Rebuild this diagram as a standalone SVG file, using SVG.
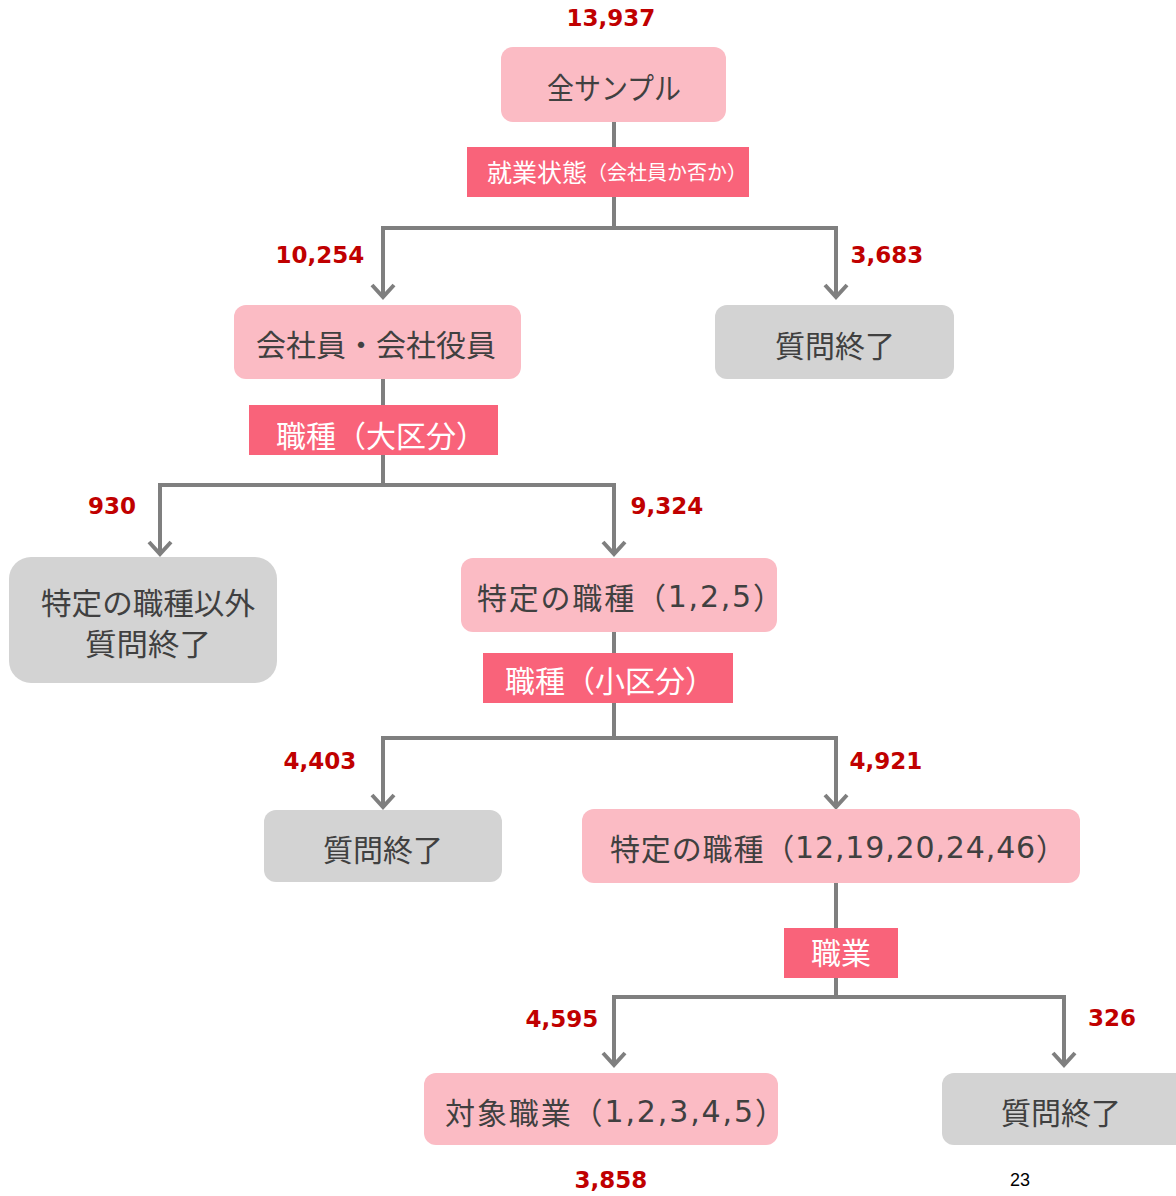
<svg xmlns="http://www.w3.org/2000/svg" width="1176" height="1196" viewBox="0 0 1176 1196">
<defs>
<marker id="arr" markerUnits="userSpaceOnUse" markerWidth="40" markerHeight="40" viewBox="-20 -20 40 40" refX="0" refY="0" orient="auto">
<path d="M-12,-11 L0,0 L-12,11" fill="none" stroke="#7F7F7F" stroke-width="4" stroke-linejoin="miter"/>
</marker>
</defs>
<style>
.pink{fill:#FBBBC4;}
.gray{fill:#D3D3D3;}
.lab{fill:#F9637A;}
.nt{font-family:"Noto Sans CJK JP","Noto Sans",sans-serif;font-size:30px;fill:#404040;text-anchor:middle;dominant-baseline:central;}
.lt{font-family:"Noto Sans CJK JP","Noto Sans",sans-serif;font-size:30px;fill:#FFFFFF;text-anchor:middle;dominant-baseline:central;}
.d{font-family:"DejaVu Sans","Noto Sans CJK JP",sans-serif;}
.num{font-family:"DejaVu Sans",Verdana,sans-serif;font-weight:bold;font-size:23px;fill:#C00000;text-anchor:middle;}
.ln{fill:none;stroke:#7F7F7F;stroke-width:4;stroke-linejoin:miter;}
.ar{marker-end:url(#arr);}
</style>
<g id="connectors">
<path class="ln" d="M614,122 V228"/>
<path class="ln ar" d="M614,228 H383 V297"/>
<path class="ln ar" d="M614,228 H836 V297"/>
<path class="ln" d="M383,379 V485"/>
<path class="ln ar" d="M383,485 H160 V554"/>
<path class="ln ar" d="M383,485 H614 V554"/>
<path class="ln" d="M614,632 V738"/>
<path class="ln ar" d="M614,738 H383 V807"/>
<path class="ln ar" d="M614,738 H836 V807"/>
<path class="ln" d="M836,883 V997"/>
<path class="ln ar" d="M836,997 H614 V1065"/>
<path class="ln ar" d="M836,997 H1064 V1065"/>
</g>
<g id="label-shugyo">
<rect class="lab" x="467" y="147" width="282" height="50"/>
<text class="lt" x="487" y="171" style="text-anchor:start"><tspan font-size="25">就業状態</tspan><tspan font-size="20">（会社員か否か）</tspan></text>
</g>
<g id="label-daikubun">
<rect class="lab" x="249" y="405" width="249" height="50"/>
<text class="lt" x="381" y="434">職種（大区分）</text>
</g>
<g id="label-shokubun">
<rect class="lab" x="483" y="653" width="250" height="50"/>
<text class="lt" x="610" y="679">職種（小区分）</text>
</g>
<g id="label-shokugyo">
<rect class="lab" x="784" y="928" width="114" height="50"/>
<text class="lt" x="841" y="951">職業</text>
</g>
<g id="node-all">
<rect class="pink" x="501" y="47" width="225" height="75" rx="12"/>
<text class="nt" x="614" y="86" textLength="134" lengthAdjust="spacingAndGlyphs">全サンプル</text>
</g>
<g id="node-kaishain">
<rect class="pink" x="234" y="305" width="287" height="74" rx="12"/>
<text class="nt" x="376" y="343">会社員・会社役員</text>
</g>
<g id="node-end1">
<rect class="gray" x="715" y="305" width="239" height="74" rx="12"/>
<text class="nt" x="835" y="344" font-size="31">質問終了</text>
</g>
<g id="node-other">
<rect class="gray" x="9" y="557" width="268" height="126" rx="22"/>
<text class="nt" x="148" y="601" font-size="28" textLength="214" lengthAdjust="spacingAndGlyphs">特定の職種以外</text>
<text class="nt" x="148" y="642" font-size="28" textLength="126" lengthAdjust="spacingAndGlyphs">質問終了</text>
</g>
<g id="node-125">
<rect class="pink" x="461" y="558" width="316" height="74" rx="12"/>
<text class="nt" x="630" y="596" textLength="306" lengthAdjust="spacing">特定の職種（<tspan class="d">1,2,5</tspan>）</text>
</g>
<g id="node-end2">
<rect class="gray" x="264" y="810" width="238" height="72" rx="12"/>
<text class="nt" x="383" y="848" font-size="31">質問終了</text>
</g>
<g id="node-12">
<rect class="pink" x="582" y="809" width="498" height="74" rx="12"/>
<text class="nt" x="838" y="847" textLength="456" lengthAdjust="spacing">特定の職種（<tspan class="d">12,19,20,24,46</tspan>）</text>
</g>
<g id="node-target">
<rect class="pink" x="424" y="1073" width="354" height="72" rx="12"/>
<text class="nt" x="615" y="1111" textLength="340" lengthAdjust="spacing">対象職業（<tspan class="d">1,2,3,4,5</tspan>）</text>
</g>
<g id="node-end3">
<rect class="gray" x="942" y="1073" width="250" height="72" rx="12"/>
<text class="nt" x="1061" y="1111" font-size="31">質問終了</text>
</g>
<g id="numbers">
<text class="num" x="611" y="26">13,937</text>
<text class="num" x="320" y="263">10,254</text>
<text class="num" x="887" y="263">3,683</text>
<text class="num" x="112" y="514">930</text>
<text class="num" x="667" y="514">9,324</text>
<text class="num" x="320" y="769">4,403</text>
<text class="num" x="886" y="769">4,921</text>
<text class="num" x="562" y="1027">4,595</text>
<text class="num" x="1112" y="1026">326</text>
<text class="num" x="611" y="1188">3,858</text>
</g>
<text x="1020" y="1186" font-family="'Liberation Sans',Arial,sans-serif" font-size="18" fill="#000000" text-anchor="middle">23</text>
</svg>
